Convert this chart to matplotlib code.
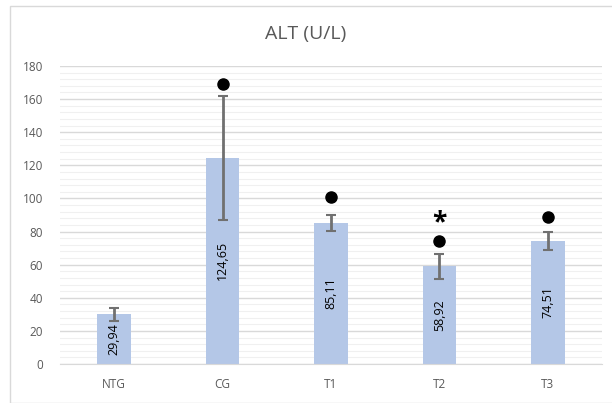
import numpy as np
import matplotlib.pyplot as plt
from matplotlib.patches import Rectangle

# Datos del gráfico
grupos = ["NTG", "CG", "T1", "T2", "T3"]
medias = [29.94, 124.65, 85.11, 58.92, 74.51]
errores = [4.0, 37.5, 5.0, 7.5, 5.5]
etiquetas = ["29,94", "124,65", "85,11", "58,92", "74,51"]
puntos = [None, 169, 101, 74.5, 88.5]      # marcadores de significancia (●)
asteriscos = [None, None, None, 85, None]  # marcadores (*)

plt.rcParams['font.family'] = ['Open Sans', 'DejaVu Sans']
gris = "#595959"

fig = plt.figure(figsize=(6.12, 4.03), dpi=100)
# Marco exterior del gráfico
fig.patches.append(Rectangle((10 / 612, 0.0), 1.0, 1 - 6 / 403, transform=fig.transFigure,
                             fill=False, edgecolor="#d9d9d9", linewidth=1))
ax = fig.add_axes([60 / 612, 39 / 403, 542 / 612, 298 / 403])

x = np.arange(len(grupos))
ax.bar(x, medias, width=0.31, color="#b4c7e7", zorder=2)
ax.errorbar(x, medias, yerr=errores, fmt="none", ecolor="#707070", elinewidth=2,
            capsize=3.5, capthick=1.5, zorder=3)

# Etiquetas de valor dentro de las barras
for xi, m, t in zip(x, medias, etiquetas):
    ax.text(xi, m / 2, t, rotation=90, ha="center", va="center", fontsize=9, color="black", zorder=4)

for xi, p in zip(x, puntos):
    if p is not None:
        ax.plot(xi, p, "o", color="black", markersize=8, zorder=4)
for xi, a in zip(x, asteriscos):
    if a is not None:
        ax.text(xi, a, "*", ha="center", va="center", fontsize=19, fontweight="bold",
                color="black", zorder=4)

ax.set_xlim(-0.5, len(grupos) - 0.5)
ax.set_ylim(0, 180)
ax.set_yticks(np.arange(0, 181, 20))
ax.set_yticks(np.arange(0, 181, 4), minor=True)
ax.grid(axis="y", which="major", color="#d9d9d9", linewidth=1, zorder=0)
ax.grid(axis="y", which="minor", color="#f0f0f0", linewidth=0.8, zorder=0)
ax.set_xticks(x)
ax.set_xticklabels(grupos)
ax.tick_params(axis="both", which="both", length=0, labelsize=8.5, colors=gris)
ax.tick_params(axis="x", pad=10)
ax.tick_params(axis="y", pad=12)
for s in ["top", "right", "left"]:
    ax.spines[s].set_visible(False)
ax.spines["bottom"].set_color("#d9d9d9")

fig.text(0.5, 1 - 34 / 403, "ALT (U/L)", ha="center", va="center", fontsize=14, color=gris)

fig.savefig("out.png", dpi=100)
